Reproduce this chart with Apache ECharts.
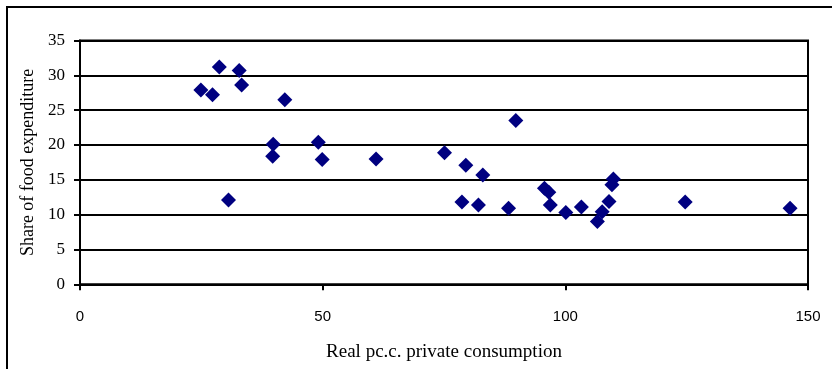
<!DOCTYPE html>
<html>
<head>
<meta charset="utf-8">
<script src="https://cdn.jsdelivr.net/npm/echarts@6/dist/echarts.min.js"></script>
<style>html,body{margin:0;padding:0;background:#fff;}#c{width:832px;height:369px;}</style>
</head>
<body>
<div id="c"></div>
<script>
const consumption = [24.9, 27.3, 28.7, 32.8, 33.3, 30.6, 39.8, 39.7, 42.2, 49.1, 49.9, 61.0, 75.1, 79.5, 83.0, 78.7, 82.1, 89.8, 88.3, 95.7, 96.6, 96.9, 100.1, 103.3, 106.6, 107.6, 109.0, 109.6, 109.9, 124.7, 146.3];
const foodShare   = [27.9, 27.2, 31.2, 30.7, 28.6, 12.1, 20.1, 18.4, 26.5, 20.4, 17.9, 18.0, 18.9, 17.1, 15.7, 11.8, 11.4, 23.5, 10.9, 13.8, 13.2, 11.4, 10.3, 11.1, 9.0, 10.4, 11.9, 14.3, 15.1, 11.8, 10.9];
const xTitle = 'Real pc.c. private consumption';
const yTitle = 'Share of food expenditure';
const xMin = 0, xMax = 150, xStep = 50;
const yMin = 0, yMax = 35, yStep = 5;

const points = consumption.map((x, i) => [x, foodShare[i]]);
const chart = echarts.init(document.getElementById('c'), null, {renderer: 'canvas'});
chart.setOption({
  animation: false,
  backgroundColor: '#fff',
  grid: {left: 80, right: 24, top: 40.5, bottom: 84.7, outerBoundsMode: 'none', containLabel: false,
         show: true, borderColor: '#000', borderWidth: 2, backgroundColor: 'transparent'},
  xAxis: {
    type: 'value', min: xMin, max: xMax, interval: xStep,
    name: xTitle, nameLocation: 'middle', nameGap: 58,
    nameTextStyle: {fontFamily: 'Liberation Serif', fontSize: 19, color: '#000'},
    axisLine: {show: true, lineStyle: {color: '#000', width: 2}},
    axisTick: {show: true, length: 6, lineStyle: {color: '#000', width: 2}},
    axisLabel: {margin: 25, fontFamily: 'Liberation Sans', fontSize: 15, color: '#000'},
    splitLine: {show: false}
  },
  yAxis: {
    type: 'value', min: yMin, max: yMax, interval: yStep,
    name: yTitle, nameLocation: 'middle', nameGap: 37, nameRotate: 90,
    nameTextStyle: {fontFamily: 'Liberation Serif', fontSize: 18, color: '#000'},
    axisLine: {show: true, lineStyle: {color: '#000', width: 2}},
    axisTick: {show: true, length: 6, lineStyle: {color: '#000', width: 2}},
    axisLabel: {margin: 15, fontFamily: 'Liberation Serif', fontSize: 17, color: '#000'},
    splitLine: {show: true, lineStyle: {color: '#000', width: 2}}
  },
  graphic: [{
    type: 'polyline', silent: true,
    shape: {points: [[7, 372], [7, 7], [835, 7]]},
    style: {stroke: '#000', lineWidth: 2, fill: null}
  }],
  series: [{
    type: 'scatter', data: points, symbol: 'diamond', symbolSize: 15,
    itemStyle: {color: '#000080', opacity: 1}
  }]
});
</script>
</body>
</html>
